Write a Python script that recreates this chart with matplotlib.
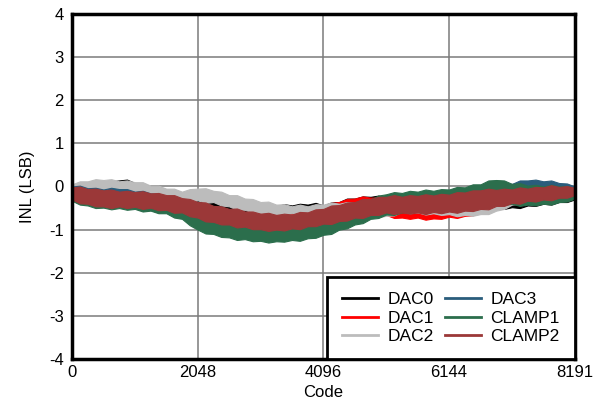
import matplotlib
matplotlib.use("Agg")
import matplotlib.pyplot as plt

plt.rcParams["font.family"] = ["Liberation Sans", "DejaVu Sans"]
plt.rcParams["axes.unicode_minus"] = False

# Codes at which the INL band edges are sampled
codes = [0, 128, 256, 384, 512, 640, 768, 896, 1024, 1152, 1280, 1408, 1536,
         1664, 1792, 1920, 2048, 2176, 2304, 2432, 2560, 2688, 2816, 2944,
         3072, 3200, 3328, 3456, 3584, 3712, 3840, 3968, 4096, 4224, 4352,
         4480, 4608, 4736, 4864, 4992, 5120, 5248, 5376, 5504, 5632, 5760,
         5888, 6016, 6144, 6272, 6400, 6528, 6656, 6784, 6912, 7040, 7168,
         7296, 7424, 7552, 7680, 7808, 7936, 8064, 8191]

# Upper / lower extent of each channel's INL trace (LSB)
dac0_hi = [-0.05, 0.02, 0.00, 0.06, 0.05, 0.12, 0.14, 0.16, 0.08, 0.07, 0.00,
           0.00, -0.08, -0.10, -0.18, -0.19, -0.28, -0.28, -0.34, -0.31, -0.36,
           -0.35, -0.40, -0.38, -0.44, -0.42, -0.46, -0.41, -0.44, -0.40, -0.42,
           -0.38, -0.44, -0.37, -0.36, -0.28, -0.28, -0.23, -0.24, -0.21, -0.26,
           -0.24, -0.28, -0.25, -0.30, -0.27, -0.30, -0.27, -0.32, -0.28, -0.30,
           -0.26, -0.30, -0.28, -0.32, -0.29, -0.34, -0.30, -0.32, -0.25, -0.26,
           -0.20, -0.20, -0.13, -0.14]
dac0_lo = [-0.25, -0.28, -0.22, -0.23, -0.18, -0.19, -0.12, -0.17, -0.16, -0.23,
           -0.22, -0.29, -0.30, -0.38, -0.38, -0.43, -0.42, -0.50, -0.50, -0.56,
           -0.56, -0.62, -0.60, -0.64, -0.62, -0.67, -0.64, -0.66, -0.62, -0.64,
           -0.58, -0.60, -0.56, -0.58, -0.52, -0.53, -0.48, -0.51, -0.46, -0.49,
           -0.46, -0.51, -0.48, -0.52, -0.50, -0.54, -0.50, -0.54, -0.52, -0.55,
           -0.50, -0.53, -0.50, -0.54, -0.50, -0.52, -0.48, -0.50, -0.44, -0.45,
           -0.40, -0.42, -0.36, -0.36, -0.30]

dac1_hi = [0.02, 0.02, -0.06, -0.05, -0.10, -0.07, -0.12, -0.10, -0.14, -0.12,
           -0.17, -0.17, -0.22, -0.22, -0.30, -0.32, -0.40, -0.40, -0.48, -0.49,
           -0.55, -0.54, -0.60, -0.59, -0.64, -0.61, -0.66, -0.62, -0.64, -0.57,
           -0.58, -0.50, -0.48, -0.38, -0.36, -0.29, -0.28, -0.23, -0.26, -0.25,
           -0.30, -0.28, -0.34, -0.32, -0.36, -0.32, -0.36, -0.33, -0.36, -0.31,
           -0.34, -0.28, -0.28, -0.20, -0.20, -0.14, -0.14, -0.08, -0.10, -0.05,
           -0.06, -0.01, -0.04, -0.02, -0.06]
dac1_lo = [-0.28, -0.36, -0.36, -0.42, -0.42, -0.47, -0.44, -0.48, -0.46, -0.51,
           -0.48, -0.53, -0.52, -0.59, -0.58, -0.66, -0.68, -0.77, -0.78, -0.85,
           -0.86, -0.92, -0.90, -0.96, -0.95, -1.00, -0.96, -0.98, -0.94, -0.95,
           -0.88, -0.87, -0.80, -0.79, -0.70, -0.68, -0.60, -0.63, -0.58, -0.65,
           -0.66, -0.73, -0.72, -0.75, -0.72, -0.77, -0.74, -0.75, -0.70, -0.73,
           -0.68, -0.67, -0.60, -0.58, -0.48, -0.47, -0.40, -0.41, -0.34, -0.35,
           -0.30, -0.32, -0.26, -0.27, -0.22]

dac2_hi = [0.05, 0.12, 0.12, 0.17, 0.15, 0.17, 0.12, 0.14, 0.10, 0.10, 0.02,
           0.02, -0.05, -0.05, -0.12, -0.06, -0.05, -0.04, -0.10, -0.12, -0.20,
           -0.20, -0.28, -0.29, -0.36, -0.35, -0.42, -0.41, -0.46, -0.42, -0.46,
           -0.41, -0.42, -0.37, -0.40, -0.36, -0.38, -0.33, -0.36, -0.30, -0.30,
           -0.26, -0.30, -0.28, -0.32, -0.29, -0.34, -0.31, -0.35, -0.31, -0.35,
           -0.30, -0.30, -0.22, -0.22, -0.13, -0.10, 0.03, 0.08, 0.10, 0.06,
           0.08, 0.02, 0.02, -0.05]
dac2_lo = [-0.20, -0.21, -0.14, -0.16, -0.12, -0.18, -0.15, -0.20, -0.18, -0.25,
           -0.24, -0.30, -0.30, -0.37, -0.36, -0.37, -0.32, -0.38, -0.36, -0.44,
           -0.46, -0.54, -0.54, -0.61, -0.62, -0.67, -0.64, -0.66, -0.62, -0.67,
           -0.64, -0.66, -0.62, -0.68, -0.66, -0.67, -0.62, -0.69, -0.68, -0.71,
           -0.68, -0.67, -0.58, -0.62, -0.60, -0.65, -0.62, -0.66, -0.64, -0.69,
           -0.66, -0.68, -0.64, -0.64, -0.56, -0.52, -0.42, -0.40, -0.30, -0.31,
           -0.26, -0.28, -0.22, -0.26, -0.24]

dac3_hi = [0.00, 0.02, -0.04, -0.03, -0.07, -0.03, -0.06, -0.06, -0.12, -0.10,
           -0.16, -0.17, -0.24, -0.25, -0.34, -0.38, -0.48, -0.50, -0.60, -0.62,
           -0.70, -0.69, -0.76, -0.75, -0.80, -0.77, -0.82, -0.78, -0.80, -0.73,
           -0.74, -0.66, -0.64, -0.53, -0.50, -0.41, -0.38, -0.30, -0.30, -0.24,
           -0.24, -0.18, -0.20, -0.16, -0.18, -0.13, -0.15, -0.10, -0.12, -0.05,
           -0.06, -0.01, -0.02, 0.04, 0.02, 0.07, 0.06, 0.14, 0.14, 0.16, 0.12,
           0.14, 0.08, 0.07, 0.00]
dac3_lo = [-0.28, -0.37, -0.38, -0.44, -0.44, -0.49, -0.46, -0.51, -0.50, -0.56,
           -0.54, -0.60, -0.60, -0.70, -0.72, -0.84, -0.90, -1.00, -1.02, -1.09,
           -1.10, -1.16, -1.14, -1.19, -1.18, -1.23, -1.20, -1.21, -1.16, -1.18,
           -1.12, -1.10, -1.02, -1.01, -0.92, -0.89, -0.80, -0.79, -0.70, -0.69,
           -0.62, -0.64, -0.58, -0.60, -0.55, -0.58, -0.52, -0.53, -0.48, -0.50,
           -0.44, -0.46, -0.42, -0.44, -0.38, -0.38, -0.32, -0.34, -0.28, -0.29,
           -0.24, -0.27, -0.22, -0.23, -0.18]

clamp1_hi = [-0.05, -0.05, -0.12, -0.11, -0.15, -0.11, -0.15, -0.14, -0.18, -0.16,
             -0.22, -0.23, -0.30, -0.31, -0.40, -0.45, -0.55, -0.58, -0.68, -0.69,
             -0.76, -0.75, -0.82, -0.81, -0.86, -0.83, -0.88, -0.84, -0.86, -0.79,
             -0.80, -0.72, -0.70, -0.59, -0.55, -0.45, -0.40, -0.31, -0.30, -0.21,
             -0.18, -0.13, -0.15, -0.10, -0.12, -0.07, -0.10, -0.06, -0.07, -0.01,
             -0.02, 0.05, 0.05, 0.14, 0.15, 0.14, 0.06, 0.08, 0.02, 0.04, 0.00,
             0.04, 0.00, 0.01, -0.04]
clamp1_lo = [-0.33, -0.42, -0.44, -0.50, -0.49, -0.53, -0.50, -0.54, -0.52, -0.58,
             -0.56, -0.62, -0.62, -0.72, -0.75, -0.90, -1.00, -1.09, -1.10, -1.17,
             -1.18, -1.24, -1.22, -1.27, -1.26, -1.30, -1.27, -1.28, -1.24, -1.26,
             -1.20, -1.19, -1.12, -1.10, -1.00, -0.97, -0.88, -0.85, -0.75, -0.73,
             -0.65, -0.66, -0.60, -0.59, -0.52, -0.54, -0.48, -0.50, -0.45, -0.47,
             -0.42, -0.44, -0.40, -0.44, -0.40, -0.43, -0.40, -0.45, -0.42, -0.44,
             -0.40, -0.42, -0.36, -0.35, -0.28]

clamp2_hi = [-0.02, 0.00, -0.06, -0.05, -0.09, -0.07, -0.12, -0.10, -0.13, -0.11,
             -0.16, -0.15, -0.20, -0.20, -0.27, -0.29, -0.36, -0.37, -0.45, -0.46,
             -0.52, -0.51, -0.58, -0.58, -0.63, -0.61, -0.66, -0.63, -0.65, -0.59,
             -0.60, -0.53, -0.52, -0.44, -0.43, -0.37, -0.36, -0.29, -0.29, -0.24,
             -0.24, -0.20, -0.24, -0.20, -0.22, -0.18, -0.21, -0.17, -0.19, -0.13,
             -0.14, -0.09, -0.09, -0.05, -0.08, -0.05, -0.07, -0.02, -0.05, -0.01,
             -0.02, 0.03, -0.01, 0.01, -0.03]
clamp2_lo = [-0.30, -0.39, -0.40, -0.46, -0.46, -0.50, -0.46, -0.50, -0.47, -0.52,
             -0.49, -0.55, -0.54, -0.61, -0.60, -0.69, -0.72, -0.81, -0.82, -0.88,
             -0.88, -0.95, -0.93, -0.99, -0.99, -1.03, -1.00, -1.02, -0.97, -0.99,
             -0.92, -0.92, -0.86, -0.87, -0.80, -0.79, -0.72, -0.73, -0.66, -0.66,
             -0.60, -0.64, -0.60, -0.63, -0.60, -0.64, -0.59, -0.62, -0.58, -0.61,
             -0.56, -0.57, -0.52, -0.53, -0.45, -0.45, -0.38, -0.40, -0.33, -0.35,
             -0.30, -0.32, -0.26, -0.26, -0.20]

names = ["DAC0", "DAC1", "DAC2", "DAC3", "CLAMP1", "CLAMP2"]
colors = ["#000000", "#ff0000", "#bcbcbc", "#2a5d7c", "#2b6e4c", "#9b3838"]
bands = [(dac0_lo, dac0_hi), (dac1_lo, dac1_hi), (dac2_lo, dac2_hi),
         (dac3_lo, dac3_hi), (clamp1_lo, clamp1_hi), (clamp2_lo, clamp2_hi)]

xticks = [0, 2048, 4096, 6144, 8191]
yticks = [-4, -3, -2, -1, 0, 1, 2, 3, 4]

fig = plt.figure(figsize=(6.05, 4.11), dpi=100)
ax = fig.add_axes([0.119, 0.1265, 0.831, 0.8395])

for name, col, (lo, hi) in zip(names, colors, bands):
    ax.fill_between(codes, lo, hi, color=col, lw=0.8, edgecolor=col, zorder=3)
    ax.plot([], [], color=col, lw=2.0, label=name)

ax.set_xlim(0, 8191)
ax.set_ylim(-4, 4)
ax.set_xticks(xticks)
ax.set_yticks(yticks)
ax.tick_params(axis="y", length=0, labelsize=12, pad=6)
ax.tick_params(axis="x", length=0, labelsize=12, pad=4)
ax.grid(True, color="#7a7a7a", lw=1.1, zorder=1)
ax.set_axisbelow(True)
for sp in ax.spines.values():
    sp.set_linewidth(2.5)
    sp.set_zorder(5)
ax.set_xlabel("Code", fontsize=12, labelpad=4)
ax.set_ylabel("INL (LSB)", fontsize=12, labelpad=10)

leg = ax.legend(loc="lower right", ncol=2, fontsize=12.5, frameon=True,
                fancybox=False, edgecolor="black", framealpha=1,
                borderaxespad=0.0, handlelength=2.1, handletextpad=0.55,
                columnspacing=0.6, labelspacing=0.2, borderpad=0.85)
leg.get_frame().set_linewidth(2.0)
leg.set_zorder(6)

fig.savefig("out.png", dpi=100)
